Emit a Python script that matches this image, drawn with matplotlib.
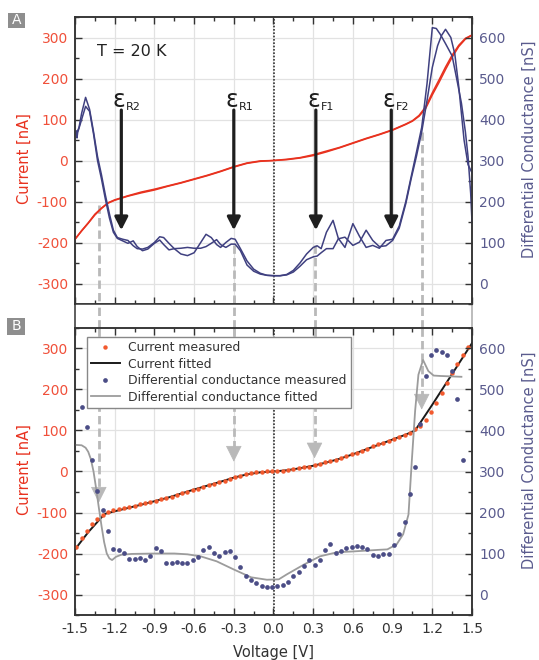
import numpy as np
import matplotlib
matplotlib.use('Agg')
import matplotlib.pyplot as plt
from matplotlib.ticker import MultipleLocator
from matplotlib.lines import Line2D
from matplotlib.patches import Rectangle

plt.rcParams['font.family'] = ['DejaVu Sans']
plt.rcParams['mathtext.fontset'] = 'dejavusans'
plt.rcParams['axes.unicode_minus'] = False

# ---------------- data ----------------
# Panel A: measured current (two sweeps), left axis [nA]
V_IA = [-1.5, -1.45, -1.4, -1.35, -1.3, -1.25, -1.2, -1.1, -1.0, -0.9, -0.8, -0.7, -0.6, -0.5, -0.4,
        -0.3, -0.2, -0.1, 0.0, 0.1, 0.2, 0.3, 0.4, 0.5, 0.6, 0.7, 0.8, 0.9, 1.0, 1.05,
        1.1, 1.15, 1.2, 1.25, 1.3, 1.35, 1.4, 1.45, 1.5]
I_A1 = [-192, -172, -153, -133, -117, -104, -97, -87, -79, -72, -63, -55, -46, -37, -27,
        -16, -7, -2, 0, 2, 6, 12, 21, 31, 42, 53, 63, 74, 88, 96,
        108, 127, 160, 190, 222, 252, 278, 296, 306]
I_A2 = [-192, -171, -152, -131, -116, -103, -96, -86, -77, -70, -62, -54, -45, -36, -26,
        -15, -6, -1, 0, 3, 7, 14, 23, 32, 43, 54, 64, 75, 89, 97,
        110, 131, 165, 196, 228, 257, 281, 298, 306]

# Panel A: differential conductance (two sweeps), right axis [nS]
V_GA1 = [-1.49, -1.47, -1.45, -1.42, -1.39, -1.36, -1.33, -1.30, -1.27, -1.24, -1.21, -1.18, -1.14,
         -1.10, -1.06, -1.03, -0.99, -0.95, -0.90, -0.86, -0.83, -0.79, -0.75, -0.70, -0.65, -0.60,
         -0.55, -0.51, -0.47, -0.43, -0.40, -0.36, -0.32, -0.29, -0.25, -0.20, -0.15, -0.10, -0.05,
         0.00, 0.05, 0.10, 0.15, 0.20, 0.25, 0.30, 0.33, 0.36, 0.40, 0.45, 0.49, 0.54, 0.60, 0.65,
         0.70, 0.75, 0.80, 0.85, 0.90, 0.95, 1.00, 1.04, 1.08, 1.12, 1.16, 1.20, 1.23, 1.26, 1.30,
         1.35, 1.39, 1.42, 1.45, 1.47, 1.49, 1.50]
G_A1 = [365, 380, 415, 454, 425, 370, 310, 265, 215, 170, 130, 112, 108,
        105, 92, 85, 84, 88, 100, 114, 112, 98, 85, 72, 68, 75,
        100, 120, 112, 95, 88, 100, 110, 108, 85, 55, 35, 25, 20,
        19, 19, 22, 32, 50, 72, 88, 92, 85, 125, 154, 110, 88, 146, 115,
        88, 93, 86, 105, 108, 140, 200, 260, 320, 381, 487, 624, 622, 608, 585,
        555, 490, 440, 370, 310, 220, 150]
V_GA2 = [-1.49, -1.485, -1.48, -1.45, -1.42, -1.39, -1.36, -1.33, -1.30, -1.27, -1.24, -1.21, -1.18,
         -1.14, -1.10, -1.06, -1.03, -0.99, -0.95, -0.90, -0.86, -0.83, -0.79, -0.75, -0.70, -0.65,
         -0.60, -0.55, -0.51, -0.47, -0.43, -0.40, -0.36, -0.32, -0.29, -0.25, -0.20, -0.15, -0.10,
         -0.05, 0.00, 0.05, 0.10, 0.15, 0.20, 0.25, 0.30, 0.33, 0.36, 0.40, 0.45, 0.49, 0.54, 0.60,
         0.65, 0.70, 0.75, 0.80, 0.85, 0.90, 0.95, 1.00, 1.04, 1.08, 1.12, 1.16, 1.20, 1.24, 1.27,
         1.30, 1.34, 1.37, 1.40, 1.44, 1.47, 1.50]
G_A2 = [372, 355, 368, 400, 432, 420, 365, 300, 255, 205, 160, 125, 110,
        104, 98, 104, 90, 80, 84, 98, 106, 95, 82, 85, 86, 88,
        86, 86, 90, 98, 107, 95, 88, 96, 96, 80, 45, 30, 23,
        20, 19, 19, 21, 28, 42, 58, 65, 67, 75, 85, 85, 109, 113, 93,
        101, 130, 105, 90, 92, 105, 135, 195, 255, 310, 370, 446, 527, 580, 605,
        620, 600, 560, 480, 350, 290, 270]

# Panel B: current measured (dots, every 0.04 V from -1.49 V) [nA]
V_IB_START, V_STEP = -1.49, 0.04
I_B_meas = [-183, -163, -145, -129, -115, -105, -99, -95, -91, -89, -86, -83, -80, -78, -74,
            -71, -67, -64, -61, -57, -53, -49, -46, -42, -38, -34, -30, -26, -22, -18,
            -14, -10, -7, -4, -2, -1, 0, 0, 1, 2, 4, 6, 8, 10, 12,
            15, 18, 22, 25, 29, 33, 37, 42, 46, 51, 56, 61, 66, 70, 75,
            79, 84, 89, 94, 103, 111, 126, 145, 168, 192, 216, 240, 263, 283, 303]
# Panel B: current fitted [nA]
V_IF = [-1.5, -1.4, -1.3, -1.27, -1.2, -1.0, -0.8, -0.6, -0.4, -0.3, -0.2, -0.1, 0.0, 0.1,
        0.2, 0.3, 0.4, 0.5, 0.6, 0.7, 0.8, 0.9, 1.0, 1.07, 1.2, 1.3, 1.4, 1.5]
I_fit = [-190, -148, -112, -103, -97, -81, -64, -44, -25, -15, -7, -2, 0, 3,
         8, 14, 22, 31, 42, 54, 66, 78, 90, 100, 163, 213, 263, 313]
# Panel B: differential conductance measured (dots, every 0.04 V from -1.45 V) [nS]
V_GB_START = -1.45
G_B_meas = [457, 408, 327, 252, 205, 155, 110, 108, 102, 86, 87, 88, 83, 93, 114, 106, 78, 76, 80, 78,
            78, 85, 91, 109, 115, 101, 95, 103, 106, 91, 66, 45, 35, 28, 20, 19, 19,
            20, 23, 30, 45, 54, 69, 83, 73, 83, 109, 122, 101, 107, 113, 115, 119, 115, 111, 96, 94,
            100, 100, 121, 148, 176, 246, 311, 416, 532, 584, 597, 592, 584, 544, 477, 327]
# Panel B: differential conductance fitted [nS]
V_GF = [-1.50, -1.45, -1.42, -1.40, -1.38, -1.36, -1.34, -1.32, -1.30, -1.28, -1.26, -1.24, -1.22,
        -1.19, -1.15, -1.07, -0.89, -0.75, -0.65, -0.55, -0.43, -0.30, -0.17, -0.05, 0.04, 0.10,
        0.23, 0.35, 0.48, 0.60, 0.80, 0.86, 0.93, 0.98, 1.02, 1.045, 1.07, 1.095, 1.13, 1.17,
        1.21, 1.26, 1.42]
G_fit = [365, 364, 358, 348, 330, 300, 258, 212, 168, 128, 100, 88, 84,
         92, 97, 99, 100, 100, 98, 93, 81, 61, 42, 36, 37, 49,
         73, 93, 103, 105, 109, 110, 122, 147, 195, 325, 447, 536, 572, 545,
         534, 533, 531]

# annotations
eps_V = [-1.15, -0.30, 0.32, 0.89]
eps_sub = ['R2', 'R1', 'F1', 'F2']
guide_V = [-1.32, -0.30, 0.31, 1.12]
guide_startA = [-109, -205, -205, 70]
guide_tipB = [-76, 24, 32, 151]

# ---------------- style ----------------
RED = '#e8321f'
RED_DOT = '#f25a2e'
RED_TXT = '#f0503a'
NAVY = '#3f4080'
NAVY_DOT = '#4b4d86'
NAVY_TXT = '#5a5b8e'
GRAYFIT = '#9c9c9c'
GUIDE = '#b9b9b9'

W, H = 539, 660
fig = plt.figure(figsize=(W / 100, H / 100), dpi=100)


def rect(l, t, r, b):
    return [l / W, 1 - b / H, (r - l) / W, (b - t) / H]


axA = fig.add_axes(rect(75, 17, 472, 304))
axS = fig.add_axes(rect(75, 304, 472, 328))
axB = fig.add_axes(rect(75, 328, 472, 615))
axA2 = axA.twinx()
axB2 = axB.twinx()


def style(ax, ax2, xlabels):
    ax.set_xlim(-1.5, 1.5)
    ax.set_ylim(-350, 350)
    ax2.set_ylim(-50, 650)
    ax.xaxis.set_major_locator(MultipleLocator(0.3))
    ax.xaxis.set_minor_locator(MultipleLocator(0.15))
    ax.yaxis.set_major_locator(MultipleLocator(100))
    ax.yaxis.set_minor_locator(MultipleLocator(50))
    ax2.yaxis.set_major_locator(MultipleLocator(100))
    ax2.yaxis.set_minor_locator(MultipleLocator(50))
    ax.grid(True, which='major', color='#e2e2e2', lw=0.9)
    ax.set_axisbelow(True)
    ax.tick_params(axis='x', which='both', direction='in', top=True, bottom=True,
                   labelbottom=xlabels, labelsize=10, pad=5, colors='#333333')
    ax.tick_params(axis='y', which='both', direction='in', left=True, right=False,
                   labelsize=10, pad=5, color='#333333', labelcolor=RED_TXT)
    ax2.tick_params(axis='y', which='both', direction='in', labelsize=10, pad=5,
                    color='#333333', labelcolor=NAVY_TXT)
    for a in (ax, ax2):
        a.tick_params(which='major', length=5, width=1)
        a.tick_params(which='minor', length=3, width=1)
        for s in a.spines.values():
            s.set_color('#333333')
            s.set_linewidth(1.1)
    ax.set_ylabel('Current [nA]', color=RED, fontsize=10.5)
    ax.yaxis.set_label_coords(-0.108, 0.507)
    ax2.set_ylabel('Differential Conductance [nS]', color=NAVY_TXT, fontsize=10.5)
    ax2.yaxis.set_label_coords(1.126, 0.54)
    ax.axvline(0, color='#333333', lw=1.2, ls=(0, (1, 1)), zorder=1.5)


style(axA, axA2, False)
style(axB, axB2, True)
axB.set_xlabel('Voltage [V]', fontsize=10.5, color='#333333')
axB.xaxis.set_label_coords(0.5, -0.104)

# strip between panels
axS.set_xlim(-1.5, 1.5)
axS.set_ylim(0, 1)
axS.set_xticks([])
axS.set_yticks([])
axS.spines['top'].set_visible(False)
axS.spines['bottom'].set_visible(False)
axS.spines['left'].set_color('#333333')
axS.spines['left'].set_linewidth(1.1)
axS.spines['right'].set_color('#aaaaaa')
axS.spines['right'].set_linewidth(1.1)

# ---------------- panel A ----------------
axA.plot(V_IA, I_A1, color=RED, lw=1.1, zorder=3)
axA.plot(V_IA, I_A2, color=RED, lw=1.1, zorder=3)
axA2.plot(V_GA1, G_A1, color=NAVY, lw=1.1)
axA2.plot(V_GA2, G_A2, color=NAVY, lw=1.1)

axA.text(-1.335, 265, 'T = 20 K', fontsize=11.5, ha='left', va='center', color='#222222')

for v, sub in zip(eps_V, eps_sub):
    axA2.annotate('', xy=(v, -170 + 300), xytext=(v, 123 + 300),
                  arrowprops=dict(arrowstyle='-|>,head_length=0.55,head_width=0.28',
                                  color='#1e1e1e', lw=2.3, shrinkA=0, shrinkB=0,
                                  mutation_scale=14), zorder=6)
    axA2.annotate('ε', xy=(v, 123 + 300), xytext=(-2, 3), textcoords='offset pixels',
                  ha='center', va='baseline', fontsize=17, color='#1e1e1e', zorder=6)
    axA2.annotate(sub, xy=(v, 123 + 300), xytext=(5, 0), textcoords='offset pixels',
                  ha='left', va='baseline', fontsize=8, color='#1e1e1e', zorder=6)

# guide lines (A -> strip -> B)
dash = (0, (3, 1.5))
for v, ya, yb in zip(guide_V, guide_startA, guide_tipB):
    axA.plot([v, v], [ya, -350], color=GUIDE, lw=2, ls=dash, zorder=2.5, clip_on=False)
    axS.plot([v, v], [0, 1], color=GUIDE, lw=2, ls=dash)
    axB.plot([v, v], [350, yb + 30], color=GUIDE, lw=2, ls=dash, zorder=2.5)
    axB.annotate('', xy=(v, yb), xytext=(v, yb + 32),
                 arrowprops=dict(arrowstyle='-|>,head_length=0.7,head_width=0.35',
                                 color=GUIDE, lw=0.5, shrinkA=0, shrinkB=0,
                                 mutation_scale=15), zorder=2.6)

# ---------------- panel B ----------------
V_IB = [V_IB_START + V_STEP * k for k in range(len(I_B_meas))]
V_GB = [V_GB_START + V_STEP * k for k in range(len(G_B_meas))]
axB.plot(V_IF, I_fit, color='#1a1a1a', lw=1.4, zorder=3)
axB.plot(V_IB, I_B_meas, 'o', color=RED_DOT, ms=3.2, mec='none', zorder=4)
axB2.plot(V_GF, G_fit, color=GRAYFIT, lw=1.3, zorder=2)
axB2.plot(V_GB, G_B_meas, 'o', color=NAVY_DOT, ms=3.4, mec='none', zorder=3)

handles = [Line2D([], [], marker='o', ls='none', color=RED_DOT, ms=3.2, mec='none'),
           Line2D([], [], color='#1a1a1a', lw=1.4),
           Line2D([], [], marker='o', ls='none', color=NAVY_DOT, ms=3.4, mec='none'),
           Line2D([], [], color=GRAYFIT, lw=1.3)]
labels = ['Current measured', 'Current fitted', 'Differential conductance measured',
          'Differential conductance fitted']
leg = axB2.legend(handles, labels, loc='upper left', bbox_to_anchor=(0.03, 0.969),
                  borderaxespad=0, fontsize=8.9, frameon=True, fancybox=False,
                  edgecolor='#888888', framealpha=1, handlelength=2.3, handletextpad=0.7,
                  labelspacing=0.28, borderpad=0.35)
leg.get_frame().set_linewidth(1.0)
leg.set_zorder(10)
for t in leg.get_texts():
    t.set_color('#333333')

# panel tags
for (l, t, r, b), lab in [((8, 13, 25, 28), 'A'), ((7, 318, 25, 335), 'B')]:
    fig.add_artist(Rectangle((l / W, 1 - b / H), (r - l) / W, (b - t) / H,
                             transform=fig.transFigure, facecolor='#8e8e8e', edgecolor='none'))
    fig.text((l + r) / 2 / W, 1 - (t + b) / 2 / H, lab, ha='center', va='center',
             color='white', fontsize=10)

fig.savefig('out.png', dpi=100)
